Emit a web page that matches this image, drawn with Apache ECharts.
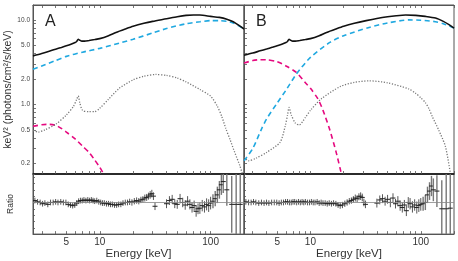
<!DOCTYPE html>
<html><head><meta charset="utf-8">
<script src="https://cdn.jsdelivr.net/npm/echarts@6/dist/echarts.min.js"></script>
<style>html,body{margin:0;padding:0;background:#fff}#c{width:458px;height:261px}</style>
</head><body><div id="c"></div>
<script>
// ---------- Panel A model curves (E [keV], keV^2 flux) ----------
const totA_E = [2.5,3,3.5,4,4.5,5,5.5,6,6.2,6.4,6.6,6.9,7.3,8,9,10,12,14,17,20,25,30,40,50,60,70,80,100,120,140,160,180,200];
const totA_V = [3.75,4.0,4.25,4.5,4.72,4.93,5.15,5.4,5.55,5.9,5.75,5.6,5.6,5.7,5.85,6.0,6.5,7.1,7.8,8.4,9.1,9.6,10.3,10.9,11.3,11.4,11.4,11.0,10.7,10.2,9.5,8.6,7.8];
const blueA_E = [2.5,3,4,5,7,10,15,20,30,40,60,80,100,120,140,160,180,200];
const blueA_V = [2.6,2.85,3.3,3.7,4.15,4.6,5.3,5.9,7.0,7.9,9.0,9.5,9.8,9.8,9.6,9.2,8.5,7.8];
const magA_E = [2.5,3,3.5,4,4.5,5,6,7,8,9,10,11];
const magA_V = [0.55,0.575,0.58,0.565,0.52,0.47,0.39,0.32,0.27,0.22,0.18,0.145];
const dotA_E = [2.5,2.8,3.2,4,5,5.8,6.2,6.4,6.6,7,8,9,10,12,15,20,25,32,40,50,60,80,100,115,126,137,150,165,183,200];
const dotA_V = [0.49,0.47,0.5,0.58,0.75,0.95,1.15,1.26,1.05,0.85,0.82,0.82,0.9,1.15,1.55,1.95,2.15,2.26,2.2,2.05,1.85,1.5,1.25,0.95,0.72,0.52,0.38,0.27,0.19,0.13];

// ---------- Panel B model curves ----------
const totB_E = [2.5,3,3.5,4,4.5,5,5.5,6,6.2,6.4,6.6,6.9,7.3,8,9,10,12,14,17,20,25,32,40,50,60,73,90,110,136,160,180,200];
const totB_V = [3.82,4.05,4.3,4.52,4.73,4.93,5.15,5.4,5.55,5.9,5.75,5.6,5.6,5.7,5.85,6.0,6.5,7.1,7.8,8.4,9.1,9.8,10.4,10.9,11.2,11.4,11.3,11.0,10.5,9.6,8.8,8.0];
const blueB_E = [2.5,3,3.6,4,5,6,7.45,10,15,20,34,50,78,100,130,160,200];
const blueB_V = [0.215,0.3,0.51,0.67,1.04,1.47,2.28,3.6,5.41,6.5,8.13,9.2,10.0,9.9,9.6,9.0,8.0];
const magB_E = [2.5,3,3.5,4,5,6,7.45,9,10,11.7,13,14.9,17,19];
const magB_V = [3.08,3.3,3.38,3.37,3.2,2.85,2.39,1.8,1.55,1.16,0.85,0.51,0.28,0.154];
const dotB_E = [2.5,2.75,3.2,4,5.3,5.9,6.2,6.4,6.7,7.3,7.9,9,10,12.5,18.7,25,34,50,78,90,100,110,119,127,145,167,185];
const dotB_V = [0.238,0.215,0.23,0.27,0.355,0.55,0.75,0.92,0.75,0.6,0.57,0.7,0.85,1.16,1.63,1.82,1.9,1.8,1.52,1.35,1.2,1.05,0.88,0.72,0.5,0.32,0.155];

// ---------- Ratio data ----------
const ratioE = [2.6,2.75,2.9,3.05,3.2,3.4,3.6,3.8,4.0,4.2,4.45,4.7,4.95,5.2,5.45,5.7,5.95,6.2,6.45,6.7,6.95,7.2,7.5,7.8,8.1,8.4,8.7,9.0,9.4,9.8,10.2,10.6,11.0,11.5,12.0,12.5,13.0,13.6,14.2,14.8,15.5,16.2,17.0,17.8,18.6,19.5,20.5,21.5,22.5,23.5,24.5,25.5,26.5,27.5,28.5,29.5,30.5,31.5,40,42.5,45,47.5,50,53,56,59,62,65,68,71,74,77,80,84,88,92,96,100,105,110,115,120,125,130,140,155,170,185];
const ratioA = [1.03,1.01,1.0,0.98,0.99,0.97,1.0,1.0,1.01,1.0,1.01,1.0,1.0,0.97,0.96,0.95,0.96,0.99,1.02,1.03,1.03,1.04,1.03,1.04,1.03,1.04,1.03,1.02,1.03,1.01,1.0,0.99,0.99,0.98,0.98,0.97,0.97,0.96,0.96,0.97,0.97,0.99,1.0,1.0,1.01,1.0,1.02,1.03,1.02,1.04,1.05,1.07,1.08,1.1,1.12,1.14,1.1,0.94,0.98,1.03,1.05,0.98,0.97,1.06,1.0,0.96,1.02,0.97,0.92,0.95,0.86,0.9,0.91,0.95,0.93,0.97,0.95,0.99,1.02,1.06,1.12,1.2,1.28,1.33,1.2,0.97,0.97,0.97];
const ratioB = [1.01,1.0,1.0,1.01,1.0,0.99,1.0,0.99,1.0,0.99,1.0,1.0,1.0,0.99,1.0,1.0,1.01,1.01,1.0,1.0,1.01,1.01,1.0,1.01,1.0,1.01,1.0,1.01,1.0,1.0,1.01,1.0,1.0,1.01,0.99,1.0,0.99,0.99,0.98,0.99,0.98,0.99,0.98,0.96,0.95,0.96,0.98,1.0,1.02,1.03,1.05,1.07,1.06,1.09,1.1,1.08,1.0,0.97,0.99,1.04,1.06,1.02,1.05,1.0,1.07,0.98,1.02,0.95,0.92,0.96,0.87,1.0,0.98,0.93,0.96,0.92,0.95,0.97,0.98,1.0,1.12,1.18,1.26,1.2,1.18,0.9,0.9,0.91];
const ratioErr = [0.045,0.045,0.045,0.045,0.045,0.045,0.045,0.045,0.045,0.045,0.045,0.045,0.045,0.045,0.045,0.045,0.045,0.045,0.045,0.045,0.045,0.045,0.045,0.045,0.045,0.045,0.045,0.045,0.045,0.045,0.045,0.045,0.045,0.045,0.045,0.045,0.045,0.045,0.045,0.045,0.045,0.045,0.045,0.045,0.05,0.05,0.05,0.05,0.05,0.05,0.05,0.055,0.055,0.055,0.06,0.06,0.06,0.06,0.07,0.07,0.07,0.07,0.07,0.075,0.075,0.075,0.08,0.08,0.08,0.08,0.085,0.085,0.09,0.09,0.09,0.095,0.1,0.1,0.11,0.12,0.13,0.14,0.16,0.18,0.25,0.45,0.6,0.75];

// ---------- Axis ticks / labels ----------
const xTickVals = [3,4,5,6,7,8,9,10,20,30,40,50,60,70,80,90,100,200];
const xLabelVals = [5,10,100];
const yTickVals = [0.2,0.3,0.4,0.5,0.6,0.7,0.8,0.9,1,2,3,4,5,6,7,8,9,10];
const yLabelVals = [0.2,0.5,1,2,5,10];

const FONT = 'Liberation Sans, Arial, Helvetica, sans-serif';
const zip = (a,b) => a.map((v,i)=>[v,b[i]]);

const grids = [
  {left:33, top:5, width:211, height:169},
  {left:33, top:174, width:211, height:64},
  {left:244, top:5, width:210, height:169},
  {left:244, top:174, width:210, height:64}
].map(g => Object.assign(g, {show:true, borderColor:'#555', borderWidth:1, containLabel:false}));

function xAx(gi, pos, labels, name) {
  const divider = (pos==='bottom' && (gi===0||gi===2));
  return {
    type:'log', logBase:10, gridIndex:gi, position:pos, min:2.5, max:200,
    axisLine:{show:true, onZero:false, lineStyle:{color: divider ? '#111' : '#555', width: divider ? 1.5 : 1}},
    axisTick:{show:true, inside:true, length:3, customValues:xTickVals, lineStyle:{color:'#555', width:0.8}},
    axisLabel:{show:!!labels, customValues:xLabelVals, margin:3, fontSize:10, color:'#333', fontFamily:FONT},
    splitLine:{show:false},
    name: name || '', nameLocation:'middle', nameGap:11,
    nameTextStyle:{fontSize:11.5, color:'#333', fontFamily:FONT, verticalAlign:'top'}
  };
}
const xAxes = [
  xAx(0,'bottom',false), xAx(0,'top',false),
  xAx(1,'bottom',true,'Energy [keV]'),
  xAx(2,'bottom',false), xAx(2,'top',false),
  xAx(3,'bottom',true,'Energy [keV]')
];
function yLog(gi, labels, name) {
  return {
    type:'log', logBase:10, gridIndex:gi, min:0.15, max:15,
    axisLine:{show:true, lineStyle:{color:'#555', width:1}},
    axisTick:{show:true, inside:true, length:3, customValues:yTickVals, lineStyle:{color:'#555', width:0.8}},
    axisLabel:{show:labels, customValues:yLabelVals, margin:3, fontSize:6.5, color:'#444', fontFamily:FONT,
      formatter: v => Number(v).toFixed(1)},
    splitLine:{show:false},
    name: name || '', nameLocation:'middle', nameGap:18,
    nameTextStyle:{fontSize:10.5, color:'#333', fontFamily:FONT}
  };
}
function yRatio(gi, name) {
  return {
    type:'value', gridIndex:gi, min:0.5, max:1.45, interval:0.1,
    axisLine:{show:true, lineStyle:{color:'#555', width:1}},
    axisTick:{show:true, inside:true, length:2, lineStyle:{color:'#555', width:0.8}},
    axisLabel:{show:false}, splitLine:{show:false},
    name: name || '', nameLocation:'middle', nameGap:18,
    nameTextStyle:{fontSize:8.5, color:'#333', fontFamily:FONT}
  };
}
const yAxes = [
  yLog(0, true, 'keV\u00B2 (photons/cm\u00B2/s/keV)'),
  yRatio(1, 'Ratio'),
  yLog(2, false),
  yRatio(3)
];

function curve(xi, yi, E, V, color, type, width) {
  return {
    type:'line', xAxisIndex:xi, yAxisIndex:yi, data:zip(E,V), showSymbol:false, symbol:'none',
    smooth:0.25, clip:true, silent:true, animation:false,
    lineStyle:{color:color, type:type, width:width}
  };
}
const DASH = [5,3.5];
const DOT = [1.2,1.6];

function errSeries(xi, yi, R) {
  const data = ratioE.map((e,i)=>[e, R[i], ratioErr[i]]);
  return [{
    type:'custom', xAxisIndex:xi, yAxisIndex:yi, data:data, clip:true, silent:true, animation:false,
    renderItem:(params, api) => {
      const e = api.value(0), r = api.value(1), er = api.value(2);
      const p = api.coord([e, r]);
      const lo = api.coord([e, r-er]);
      const hi = api.coord([e, r+er]);
      return {type:'group', children:[
        {type:'line', shape:{x1:p[0], y1:lo[1], x2:p[0], y2:hi[1]}, style:{stroke: er>0.1 ? '#777' : '#444', lineWidth: er>0.1 ? 1.4 : 0.9}},
        {type:'line', shape:{x1:p[0]-2.5, y1:p[1], x2:p[0]+2.5, y2:p[1]}, style:{stroke:'#222', lineWidth:1}}
      ]};
    }
  }, {
    type:'line', xAxisIndex:xi, yAxisIndex:yi, data:data.map(d=>[d[0],d[1]]), symbol:'none', silent:true, animation:false,
    lineStyle:{width:0, opacity:0},
    markLine:{silent:true, symbol:'none', label:{show:false}, animation:false,
      lineStyle:{color:'#888', width:0.8, type:'solid'}, data:[{yAxis:1}]}
  }];
}

const series = [
  curve(0,0,magA_E,magA_V,'#e5097f',DASH,1.6),
  curve(0,0,dotA_E,dotA_V,'#777',DOT,1.3),
  curve(0,0,blueA_E,blueA_V,'#1fa8e0',DASH,1.6),
  curve(0,0,totA_E,totA_V,'#111','solid',1.6),
  ...errSeries(2,1,ratioA),
  curve(3,2,magB_E,magB_V,'#e5097f',DASH,1.6),
  curve(3,2,dotB_E,dotB_V,'#777',DOT,1.3),
  curve(3,2,blueB_E,blueB_V,'#1fa8e0',DASH,1.6),
  curve(3,2,totB_E,totB_V,'#111','solid',1.6),
  ...errSeries(5,3,ratioB)
];

const chart = echarts.init(document.getElementById('c'), null, {renderer:'canvas'});
chart.setOption({
  animation:false,
  backgroundColor:'#fff',
  title:[
    {text:'A', left:40, top:9, textStyle:{fontSize:16, fontWeight:'normal', color:'#222', fontFamily:FONT}},
    {text:'B', left:251, top:9, textStyle:{fontSize:16, fontWeight:'normal', color:'#222', fontFamily:FONT}}
  ],
  grid:grids,
  xAxis:xAxes,
  yAxis:yAxes,
  series:series
});
</script></body></html>
